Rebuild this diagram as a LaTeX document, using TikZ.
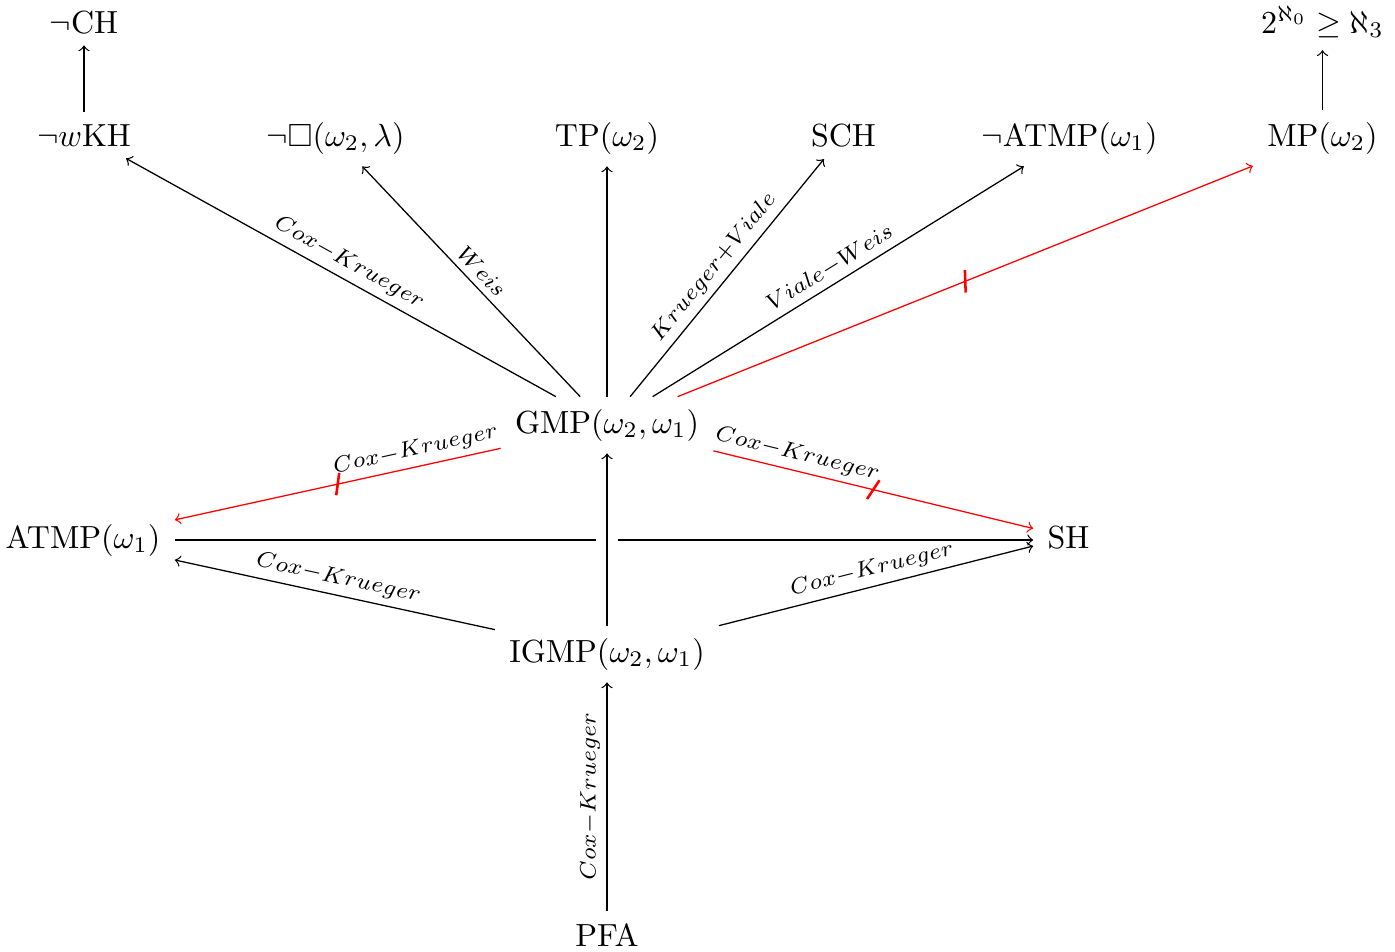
\documentclass[tikz,border=0pt]{standalone}
\usepackage{amssymb}
\usetikzlibrary{decorations.markings}
\begin{document}
\begin{tikzpicture}[x=0.3125pt, y=-0.3125pt,
  cell/.style={anchor=base, inner xsep=1ex, inner ysep=0.85ex},
  arr/.style={->},
  negarr/.style={->, red, postaction={decorate},
    decoration={markings, mark=at position 0.5 with {\draw[red, line width=0.8pt, -] (-1.2pt,-3.3pt) -- (1.2pt,3.3pt);}}},
  lab/.style={sloped, above, inner sep=2pt, text=black},
  vlab/.style={midway, rotate=90, anchor=south, inner sep=2pt, text=black},
]
\useasboundingbox (0,0) rectangle (1395,951);

\node[cell] (ch) at (84,33) {$\neg\mathrm{CH}$};
\node[cell] (wkh) at (84,146) {$\neg w\mathrm{KH}$};
\node[cell] (box) at (335.5,146) {$\neg\square(\omega_2,\lambda)$};
\node[cell] (tp) at (607,146) {$\mathrm{TP}(\omega_2)$};
\node[cell] (sch) at (843.5,146) {SCH};
\node[cell] (natmp) at (1069.5,146) {$\neg\mathrm{ATMP}(\omega_1)$};
\node[cell] (mp) at (1322.5,146) {$\mathrm{MP}(\omega_2)$};
\node[cell] (aleph) at (1322.5,33) {$2^{\aleph_0}\geq\aleph_3$};
\node[cell] (gmp) at (607,433) {$\mathrm{GMP}(\omega_2,\omega_1)$};
\node[cell] (atmp) at (83,548) {$\mathrm{ATMP}(\omega_1)$};
\node[cell] (sh) at (1068.5,548) {SH};
\node[cell] (igmp) at (607,662) {$\mathrm{IGMP}(\omega_2,\omega_1)$};
\node[cell] (pfa) at (607,946) {PFA};

\draw[arr] (wkh) -- (ch);
\draw[arr] (mp) -- (aleph);
\draw[arr] (gmp) -- node[lab]{$\scriptstyle Cox-Krueger$} (wkh);
\draw[arr] (gmp) -- node[lab]{$\scriptstyle Weis$} (box);
\draw[arr] (gmp) -- (tp);
\draw[arr] (gmp) -- node[lab]{$\scriptstyle Krueger+Viale$} (sch);
\draw[arr] (gmp) -- node[lab]{$\scriptstyle Viale-Weis$} (natmp);
\draw[negarr] (gmp) -- (mp);
\draw[negarr] (gmp) -- node[lab,pos=0.25]{$\scriptstyle Cox-Krueger$} (atmp);
\draw[negarr] (gmp) -- node[lab,pos=0.25]{$\scriptstyle Cox-Krueger$} (sh);
\draw[arr] (atmp) -- (sh.west |- atmp);
\draw[white, line width=7pt] (igmp) -- (gmp);
\draw[arr] (igmp) -- (gmp);
\draw[arr] (igmp) -- node[lab]{$\scriptstyle Cox-Krueger$} (atmp);
\draw[arr] (igmp) -- node[lab]{$\scriptstyle Cox-Krueger$} (sh);
\draw[arr] (pfa) -- node[vlab]{$\scriptstyle Cox-Krueger$} (igmp);
\end{tikzpicture}
\end{document}
